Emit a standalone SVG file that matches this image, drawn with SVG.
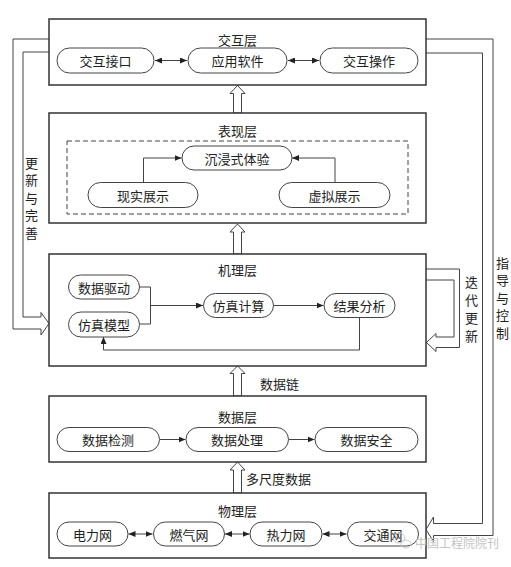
<svg xmlns="http://www.w3.org/2000/svg" width="511" height="567" viewBox="0 0 511 567">
<defs>
<style>
text{font-family:"Noto Sans CJK SC","Noto Sans CJK JP",sans-serif;font-size:13px;fill:#222;dominant-baseline:central;text-anchor:middle}
.layer{fill:#fff;stroke:#333;stroke-width:1.5}
.pill{fill:#fff;stroke:#444;stroke-width:1}
.conn{fill:none;stroke:#444;stroke-width:1}
.hollow{fill:#fff;stroke:#444;stroke-width:1}
.dash{fill:none;stroke:#444;stroke-width:1;stroke-dasharray:5 3}
.vt{font-size:13px}
.wm{fill:#c4c4c4;font-size:12px;text-anchor:start}
</style>
<marker id="ah" markerWidth="7" markerHeight="6" refX="7" refY="3" orient="auto-start-reverse" markerUnits="userSpaceOnUse">
<path d="M0,0 L7,3 L0,6 Z" fill="#222"/>
</marker>
</defs>
<rect width="511" height="567" fill="#fff"/>

<g id="connectors">
<path class="hollow" style="fill:none" d="M49,39 H13 V329 H41 V335 L49,323.5 L41,312.5 V317 H23 V52 H49"/>
<path class="hollow" style="fill:none" d="M426,269 H459.5 V347.5 H436 V351.5 L426.5,342.5 L436,333.5 V337 H454 V280 H426"/>
<path class="hollow" style="fill:none" d="M426,39 H493 V535.5 H433.5 V541.5 L426,529.5 L433.5,517 V523.5 H482.5 V53 H426"/>
<polygon class="hollow" points="233.5,113 233.5,93.5 230,93.5 237.5,85.5 245,93.5 241.5,93.5 241.5,113"/>
<polygon class="hollow" points="233.5,254 233.5,232 230,232 237.5,224 245,232 241.5,232 241.5,254"/>
<polygon class="hollow" points="233.5,396 233.5,373.5 230,373.5 237.5,366 245,373.5 241.5,373.5 241.5,396"/>
<polygon class="hollow" points="233.5,493 233.5,470 230,470 237.5,462 245,470 241.5,470 241.5,493"/>
</g>

<g id="layer-interaction">
<rect class="layer" x="49" y="19" width="377" height="66"/>
<text x="237.5" y="39">交互层</text>
</g>
<g id="layer-presentation">
<rect class="layer" x="49" y="113" width="377" height="110"/>
<text x="237.5" y="130.5">表现层</text>
<rect class="dash" x="67" y="141" width="341" height="73"/>
</g>
<g id="layer-mechanism">
<rect class="layer" x="49" y="254" width="377" height="112"/>
<text x="237.5" y="269.5">机理层</text>
</g>
<g id="layer-data">
<rect class="layer" x="49" y="396" width="377" height="66"/>
<text x="237.5" y="416">数据层</text>
</g>
<g id="layer-physical">
<rect class="layer" x="49" y="493" width="377" height="65"/>
<text x="237.5" y="510.5">物理层</text>
</g>

<g id="inner-connectors">
<line class="conn" x1="155" y1="60.5" x2="187" y2="60.5" marker-start="url(#ah)" marker-end="url(#ah)"/>
<line class="conn" x1="288" y1="60.5" x2="319" y2="60.5" marker-start="url(#ah)" marker-end="url(#ah)"/>
<path class="conn" d="M143.5,182.5 V158 H181.5" marker-end="url(#ah)"/>
<path class="conn" d="M335,182.5 V158 H292" marker-end="url(#ah)"/>
<path class="conn" d="M139.5,287 H150.5 V324 H139.5"/>
<path class="conn" d="M150.5,305.5 H203" marker-end="url(#ah)"/>
<path class="conn" d="M273.5,305.5 H323.5" marker-end="url(#ah)"/>
<path class="conn" d="M359.5,317.5 V350 H103.5 V337" marker-end="url(#ah)"/>
<path class="conn" d="M159.5,439.5 H185.5" marker-end="url(#ah)"/>
<path class="conn" d="M288.5,439.5 H314.5" marker-end="url(#ah)"/>
<line class="conn" x1="128.5" y1="534" x2="152.5" y2="534" marker-start="url(#ah)" marker-end="url(#ah)"/>
<line class="conn" x1="225" y1="534" x2="249.5" y2="534" marker-start="url(#ah)" marker-end="url(#ah)"/>
<line class="conn" x1="322.5" y1="534" x2="346.5" y2="534" marker-start="url(#ah)" marker-end="url(#ah)"/>
</g>

<g id="n-jiaohujiekou"><rect class="pill" x="57" y="48" width="97" height="25" rx="12.5"/><text x="105.5" y="60.5">交互接口</text></g>
<g id="n-yingyongruanjian"><rect class="pill" x="188" y="48" width="99" height="25" rx="12.5"/><text x="237.5" y="60.5">应用软件</text></g>
<g id="n-jiaohucaozuo"><rect class="pill" x="320" y="48" width="98" height="25" rx="12.5"/><text x="369" y="60.5">交互操作</text></g>

<g id="n-chenjin"><rect class="pill" x="182" y="146" width="110" height="24" rx="12"/><text x="237" y="158">沉浸式体验</text></g>
<g id="n-xianshi"><rect class="pill" x="88" y="182.5" width="110" height="25" rx="12.5"/><text x="143" y="195">现实展示</text></g>
<g id="n-xuni"><rect class="pill" x="279" y="182.5" width="111" height="25" rx="12.5"/><text x="334.5" y="195">虚拟展示</text></g>

<g id="n-shujuqudong"><rect class="pill" x="68.5" y="275" width="71" height="24" rx="12"/><text x="104" y="287">数据驱动</text></g>
<g id="n-fangzhenmoxing"><rect class="pill" x="68.5" y="312" width="71" height="25" rx="12.5"/><text x="104" y="324.5">仿真模型</text></g>
<g id="n-fangzhenjisuan"><rect class="pill" x="203.5" y="293.5" width="70" height="24" rx="12"/><text x="238.5" y="305.5">仿真计算</text></g>
<g id="n-jieguofenxi"><rect class="pill" x="324" y="293.5" width="71" height="24" rx="12"/><text x="359.5" y="305.5">结果分析</text></g>

<g id="n-shujujiance"><rect class="pill" x="57" y="427.5" width="102.5" height="24" rx="12"/><text x="108" y="439.5">数据检测</text></g>
<g id="n-shujuchuli"><rect class="pill" x="186" y="427.5" width="102.5" height="24" rx="12"/><text x="237" y="439.5">数据处理</text></g>
<g id="n-shujuanquan"><rect class="pill" x="315" y="427.5" width="103" height="24" rx="12"/><text x="366.5" y="439.5">数据安全</text></g>

<g id="n-dianliwang"><rect class="pill" x="57" y="522" width="71" height="24" rx="12"/><text x="92.5" y="534">电力网</text></g>
<g id="n-ranqiwang"><rect class="pill" x="153.5" y="522" width="71" height="24" rx="12"/><text x="189" y="534">燃气网</text></g>
<g id="n-reliwang"><rect class="pill" x="250" y="522" width="72" height="24" rx="12"/><text x="286" y="534">热力网</text></g>
<g id="n-jiaotongwang"><rect class="pill" x="347.5" y="522" width="71" height="24" rx="12"/><text x="383" y="534">交通网</text></g>

<g id="labels">
<text class="vt" x="31.5"><tspan x="31.5" y="161.5">更</tspan><tspan x="31.5" y="179">新</tspan><tspan x="31.5" y="196.5">与</tspan><tspan x="31.5" y="214">完</tspan><tspan x="31.5" y="231.5">善</tspan></text>
<text class="vt" x="471.5"><tspan x="471.5" y="281">迭</tspan><tspan x="471.5" y="299">代</tspan><tspan x="471.5" y="317">更</tspan><tspan x="471.5" y="335">新</tspan></text>
<text class="vt" x="502.5"><tspan x="502.5" y="261.5">指</tspan><tspan x="502.5" y="279">导</tspan><tspan x="502.5" y="296.5">与</tspan><tspan x="502.5" y="314">控</tspan><tspan x="502.5" y="331.5">制</tspan></text>
<text x="260" y="383" style="text-anchor:start">数据链</text>
<text x="246" y="478.5" style="text-anchor:start">多尺度数据</text>
</g>

<g id="watermark">
<ellipse cx="399" cy="538" rx="6" ry="5" fill="none" stroke="#ccc" stroke-width="1"/>
<ellipse cx="406" cy="544" rx="5" ry="4" fill="none" stroke="#ccc" stroke-width="1"/>
<text class="wm" x="415" y="542.5">中国工程院院刊</text>
</g>
</svg>
